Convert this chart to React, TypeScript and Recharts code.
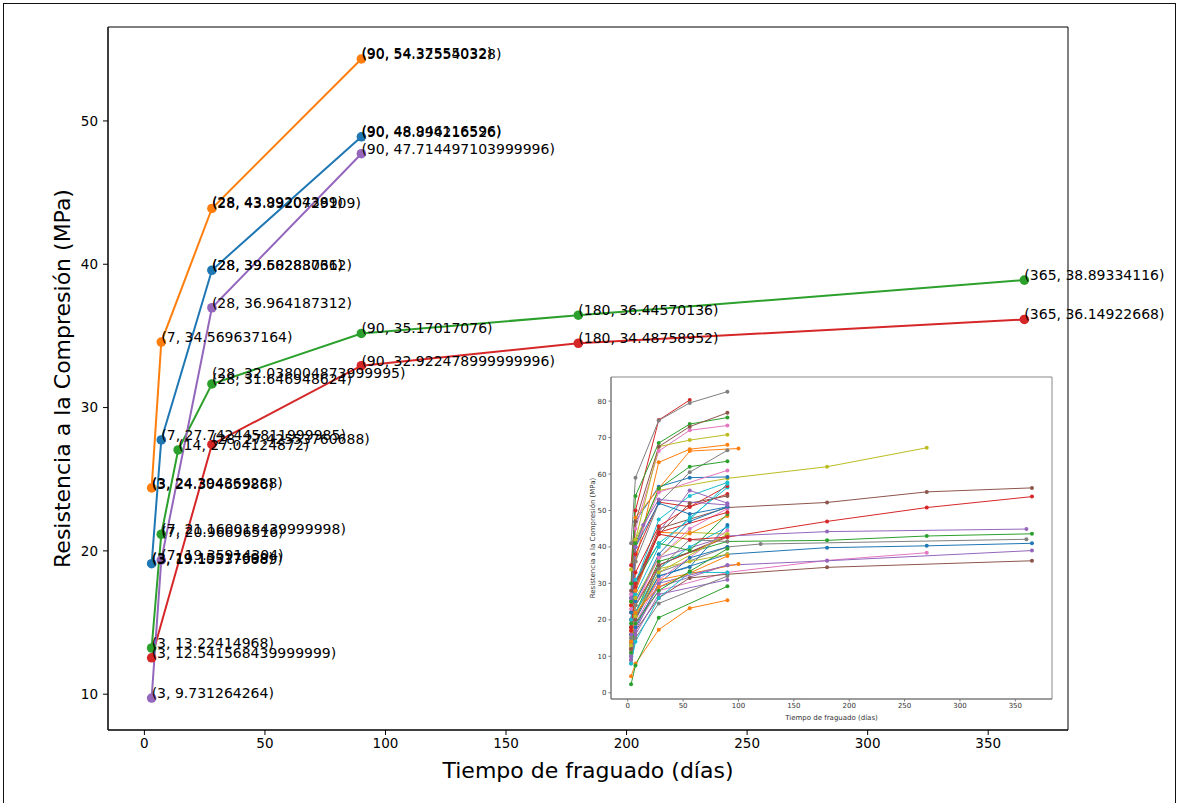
import { ComposedChart, Line, Scatter, XAxis, YAxis, ReferenceArea, Label } from 'recharts'

// matplotlib tab10 cycle
const PALETTE = ['#1f77b4', '#ff7f0e', '#2ca02c', '#d62728', '#9467bd', '#8c564b', '#e377c2', '#7f7f7f', '#bcbd22', '#17becf']

// main curves: setting time (days) vs compressive strength (MPa)
const shortDays = [3, 7, 28, 90]
const blueMpa = [19.105379688999998, 27.742445811999986, 39.582880362, 48.894216526]
const orangeMpa = [24.394369288, 34.569637164, 43.892072910899995, 54.325540328]
const purpleMpa = [9.731264264, 19.35914304, 36.964187312, 47.714497103999996]
const greenDays = [3, 7, 14, 28, 90, 180, 365]
const greenMpa = [13.22414968, 21.160018439999998, 27.04124872, 31.646948624, 35.17017076, 36.44570136, 38.89334116]
const redDays = [3, 28, 90, 180, 365]
const redMpa = [12.541568439999999, 27.42553760688, 32.922478999999996, 34.48758952, 36.14922668]

// annotations printed on top of the ones above
const extraNoteDays = [90, 90, 28, 28, 28, 3, 7, 3]
const extraNoteMpa = [54.37555032, 48.946116596, 43.99204389, 39.60283761, 32.038004873999996, 24.30465986, 20.96696516, 19.15317698]

const mainXTicks = [0, 50, 100, 150, 200, 250, 300, 350]
const mainYTicks = [10, 20, 30, 40, 50]

// small overview of every mix
const d5 = [3, 7, 28, 56, 90]
const insetCurves: [number[], number[]][] = [
  [[3, 7, 28, 90, 180, 270, 365], [13.5, 21, 32, 38, 39.8, 40.3, 41.0]],
  [d5, [4.5, 8, 17.3, 23.2, 25.4]],
  [[3, 7, 28, 90, 180, 270, 365], [12, 22, 36, 41.5, 41.8, 43, 43.6]],
  [[3, 7, 28, 90, 180, 270, 365], [14, 24, 35, 42.7, 47, 50.8, 53.8]],
  [[3, 7, 28, 90, 180, 360], [15, 25, 37, 43, 44.2, 44.9]],
  [[3, 7, 28, 90, 180, 270, 365], [20, 30, 45, 50.8, 52.2, 55.1, 56.2]],
  [[3, 7, 28, 90, 180, 270], [10, 18, 28, 33, 36.3, 38.4]],
  [[3, 7, 28, 90, 120, 360], [13, 22, 33, 40, 40.8, 42.1]],
  [[3, 7, 28, 90, 180, 270], [33.8, 42, 55.5, 58.8, 62, 67.2]],
  [d5, [18, 30, 47.5, 54, 57.7]],
  [d5, [26, 47, 56.5, 59, 59.2]],
  [[3, 7, 28, 56, 100], [24, 48, 56, 66.3, 67]],
  [shortDays, [2.3, 7.5, 20.6, 29.2]],
  [[3, 7, 28, 56], [35, 50, 74.8, 80.3]],
  [[3, 7, 28, 90, 180, 365], [11, 19, 29, 35, 36.2, 39.0]],
  [[3, 7, 28, 56, 90, 180, 365], [9, 17, 26, 31.5, 32.5, 34.4, 36.2]],
  [d5, [27, 45, 66.3, 72, 73.3]],
  [d5, [41, 59, 74.7, 79.5, 82.6]],
  [d5, [25, 42, 67.5, 69.3, 70.8]],
  [d5, [16, 27, 40, 48, 56.3]],
  [d5, [16, 25, 38, 47, 51]],
  [d5, [22, 36, 63.2, 66.8, 68]],
  [d5, [30, 54, 68.5, 73.7, 75.5]],
  [d5, [24, 38, 52.3, 51, 56.7]],
  [d5, [16, 28, 44, 55.5, 52]],
  [d5, [28, 47, 67.5, 73, 76.8]],
  [shortDays, [23, 40, 55, 61]],
  [d5, [20, 36, 52, 60.5, 66.5]],
  [d5, [15, 26, 37, 44, 43.5]],
  [d5, [14, 22, 34, 40, 45.5]],
  [d5, [12, 20, 32, 34.5, 46]],
  [d5, [17, 28, 44, 43.7, 48.5]],
  [d5, [25, 41, 56, 62, 63.5]],
  [d5, [20, 33, 45.7, 51, 54.5]],
  [shortDays, [9, 16, 27, 31]],
  [d5, [18, 30, 43.5, 52, 54]],
  [d5, [14, 24, 37, 45, 50.5]],
  [shortDays, [8, 15, 24.5, 32]],
  [d5, [14, 24, 34, 36, 38]],
  [d5, [8, 14, 26, 33, 33]],
  [d5, [10, 18, 30, 37, 40]],
  [[3, 7, 28, 100], [12, 21, 31, 35.3]],
  [d5, [19, 30, 41, 39, 49]],
  [shortDays, [18, 30, 44, 49.5]],
  [shortDays, [10, 17, 30, 35]],
  [shortDays, [12, 20, 35, 43]],
  [shortDays, [11, 19, 31, 44.5]],
  [d5, [15, 24, 34, 42, 41.5]],
  [shortDays, [13, 21, 33, 43.5]],
  [d5, [20, 31, 41, 47.5, 57.3]],
  [d5, [22, 40, 52, 49, 51]],
  [shortDays, [14, 22, 29, 37.5]],
  [d5, [11, 19, 28, 33.3, 39.5]],
  [d5, [17, 29, 43.5, 42, 42.7]],
  [[3, 7, 14, 28, 90], [26, 40, 46, 53, 51.5]],
]
const insetYTicks = [0, 10, 20, 30, 40, 50, 60, 70, 80]

const X_DOMAIN = [-15.1, 383.1]
const Y_DOMAIN = [7.502, 56.555]
const INSET_Y_DOMAIN = [-1.715, 86.615]

const toPoints = (days: number[], mpa: number[]) => days.map((x, i) => ({ x, y: mpa[i] }))

const mainSeries = [
  { color: PALETTE[0], data: toPoints(shortDays, blueMpa) },
  { color: PALETTE[1], data: toPoints(shortDays, orangeMpa) },
  { color: PALETTE[2], data: toPoints(greenDays, greenMpa) },
  { color: PALETTE[3], data: toPoints(redDays, redMpa) },
  { color: PALETTE[4], data: toPoints(shortDays, purpleMpa) },
]
const notes = [...mainSeries.flatMap((s) => s.data), ...toPoints(extraNoteDays, extraNoteMpa)]

const NoteText = (p: any) => (
  <text x={p.cx} y={p.cy} fontSize={14} fill="#000">{`(${p.payload.x}, ${p.payload.y})`}</text>
)

function Inset() {
  const tick = { fill: '#333', fontSize: 7 }
  return (
    <ComposedChart width={520} height={360} margin={{ top: 7, right: 28, bottom: 0, left: 15 }}>
      <XAxis type="number" dataKey="x" domain={X_DOMAIN} ticks={mainXTicks} height={31} tickSize={2.5} tickMargin={2} stroke="#777" tick={tick}>
        <Label value="Tiempo de fraguado (días)" position="insideBottom" offset={10} style={{ fontSize: 7, fill: '#333' }} />
      </XAxis>
      <YAxis type="number" dataKey="y" domain={INSET_Y_DOMAIN} ticks={insetYTicks} width={36} tickSize={2.5} tickMargin={2} stroke="#777" tick={tick}>
        <Label value="Resistencia a la Compresión (MPa)" angle={-90} position="center" style={{ fontSize: 7, fill: '#333' }} />
      </YAxis>
      <ReferenceArea x1={X_DOMAIN[0]} x2={X_DOMAIN[1]} y1={INSET_Y_DOMAIN[0]} y2={INSET_Y_DOMAIN[1]} fill="none" stroke="#888" strokeWidth={1} />
      {insetCurves.map(([days, mpa], i) => {
        const color = PALETTE[i % PALETTE.length]
        return (
          <Line key={i} data={toPoints(days, mpa)} dataKey="y" type="linear" stroke={color} strokeWidth={1}
            dot={{ r: 2, fill: color, stroke: color, strokeWidth: 0 }} activeDot={false} isAnimationActive={false} />
        )
      })}
    </ComposedChart>
  )
}

export default function App() {
  const tick = { fill: '#000', fontSize: 13.5 }
  return (
    <div style={{ position: 'absolute', left: 0, top: 0, width: 1178, height: 803, background: '#fff', fontFamily: 'DejaVu Sans', overflow: 'hidden' }}>
      <div style={{ position: 'absolute', left: 3, top: 3, width: 1171, height: 820, border: '1.5px solid #111' }} />
      <div style={{ position: 'absolute', left: 0, top: 0 }}>
        <ComposedChart width={1178} height={803} margin={{ top: 27, right: 110, bottom: 0, left: 16 }}>
          <XAxis type="number" dataKey="x" domain={X_DOMAIN} ticks={mainXTicks} height={73} tickSize={5} tickMargin={3} stroke="#000" tick={tick}>
            <Label value="Tiempo de fraguado (días)" position="insideBottom" offset={25} style={{ fontSize: 22, fill: '#000' }} />
          </XAxis>
          <YAxis type="number" dataKey="y" domain={Y_DOMAIN} ticks={mainYTicks} width={92} tickSize={5} tickMargin={5} stroke="#000" tick={tick}>
            <Label value="Resistencia a la Compresión (MPa)" angle={-90} position="center" style={{ fontSize: 22, fill: '#000' }} />
          </YAxis>
          <ReferenceArea x1={X_DOMAIN[0]} x2={X_DOMAIN[1]} y1={Y_DOMAIN[0]} y2={Y_DOMAIN[1]} fill="none" stroke="#000" strokeWidth={1} />
          {mainSeries.map((s, i) => (
            <Line key={i} data={s.data} dataKey="y" type="linear" stroke={s.color} strokeWidth={2}
              dot={{ r: 4.8, fill: s.color, stroke: s.color, strokeWidth: 0 }} activeDot={false} isAnimationActive={false} />
          ))}
          <Scatter data={notes} dataKey="y" shape={NoteText} isAnimationActive={false} />
        </ComposedChart>
      </div>
      <div style={{ position: 'absolute', left: 560, top: 370 }}>
        <Inset />
      </div>
    </div>
  )
}
